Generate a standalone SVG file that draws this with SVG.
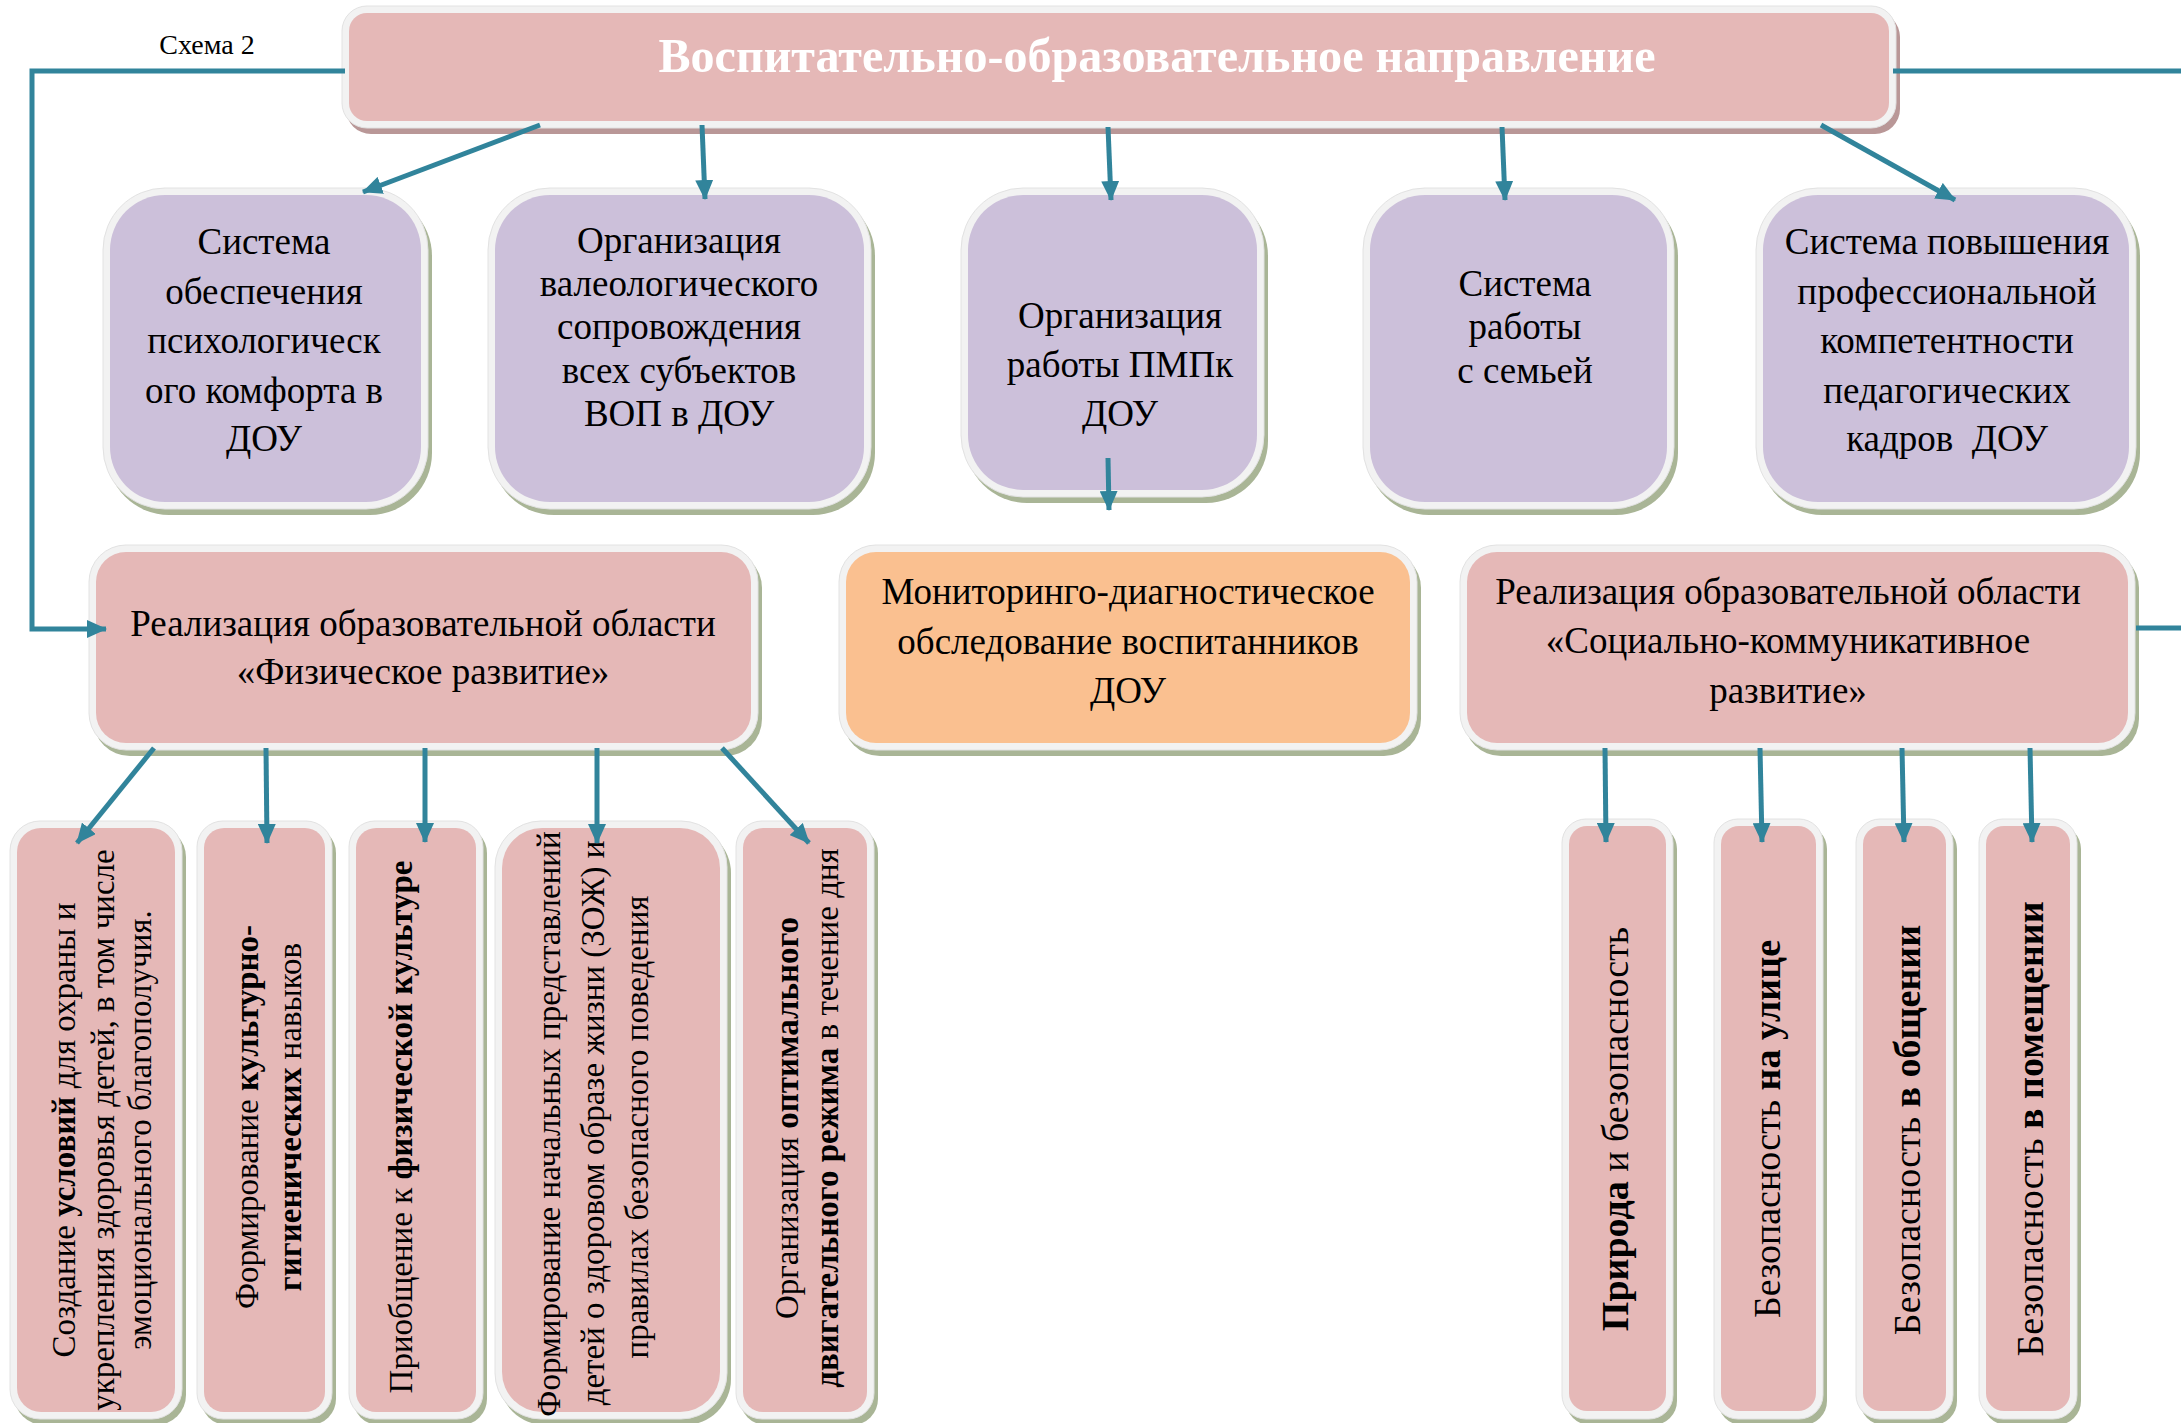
<svg xmlns="http://www.w3.org/2000/svg" width="2181" height="1423" viewBox="0 0 2181 1423">
<style>
.t{font-family:"Liberation Serif","Times New Roman",serif;font-size:37px;fill:#000;text-anchor:middle}
.v{font-size:33px}
.vr{font-size:38px}
.b{font-weight:bold}
.title{font-family:"Liberation Serif","Times New Roman",serif;font-size:49px;font-weight:bold;fill:#fff;text-anchor:middle}
.cap{font-family:"Liberation Serif","Times New Roman",serif;font-size:28px;fill:#000;text-anchor:middle}
.sh{fill:#A9B596}
.shp{fill:#B99797}
.band{fill:#F2F2F2;stroke:#E2E2E2;stroke-width:1}
.pink{fill:#E5B8B7}
.purple{fill:#CCC0DA}
.orange{fill:#FAC090}
.conn{stroke:#31849B;stroke-width:5;fill:none}
</style>
<defs>
<marker id="ah" markerUnits="userSpaceOnUse" markerWidth="20" markerHeight="18" refX="19" refY="9" orient="auto">
<path d="M0,0 L20,9 L0,18 z" fill="#31849B"/>
</marker>
</defs>
<rect width="2181" height="1423" fill="#fff"/>
<text class="cap" x="207" y="54">Схема 2</text>

<g id="header">
<rect class="shp" x="346" y="12" width="1554" height="122" rx="25"/>
<rect class="band" x="342" y="6" width="1554" height="122" rx="25"/>
<rect class="pink" x="349" y="13" width="1540" height="108" rx="18"/>
<text class="title" x="1157" y="72" textLength="997" lengthAdjust="spacingAndGlyphs">Воспитательно-образовательное направление</text>
</g>

<g id="p1">
<rect class="sh" x="107" y="194" width="325" height="321" rx="62"/>
<rect class="band" x="103" y="188" width="325" height="321" rx="62"/>
<rect class="purple" x="110" y="195" width="311" height="307" rx="55"/>
<text class="t"><tspan x="264" y="254">Система</tspan><tspan x="264" y="304">обеспечения</tspan><tspan x="264" y="353">психологическ</tspan><tspan x="264" y="403">ого комфорта в</tspan><tspan x="264" y="451">ДОУ</tspan></text>
</g>

<g id="p2">
<rect class="sh" x="492" y="194" width="383" height="321" rx="62"/>
<rect class="band" x="488" y="188" width="383" height="321" rx="62"/>
<rect class="purple" x="495" y="195" width="369" height="307" rx="55"/>
<text class="t"><tspan x="679" y="253">Организация</tspan><tspan x="679" y="296">валеологического</tspan><tspan x="679" y="339">сопровождения</tspan><tspan x="679" y="383">всех субъектов</tspan><tspan x="679" y="426">ВОП в ДОУ</tspan></text>
</g>

<g id="p3">
<rect class="sh" x="965" y="194" width="303" height="309" rx="62"/>
<rect class="band" x="961" y="188" width="303" height="309" rx="62"/>
<rect class="purple" x="968" y="195" width="289" height="295" rx="55"/>
<text class="t"><tspan x="1120" y="328">Организация</tspan><tspan x="1120" y="377">работы ПМПк</tspan><tspan x="1120" y="426">ДОУ</tspan></text>
</g>

<g id="p4">
<rect class="sh" x="1367" y="194" width="311" height="321" rx="62"/>
<rect class="band" x="1363" y="188" width="311" height="321" rx="62"/>
<rect class="purple" x="1370" y="195" width="297" height="307" rx="55"/>
<text class="t"><tspan x="1525" y="296">Система</tspan><tspan x="1525" y="339">работы</tspan><tspan x="1525" y="383">с семьей</tspan></text>
</g>

<g id="p5">
<rect class="sh" x="1760" y="194" width="380" height="321" rx="62"/>
<rect class="band" x="1756" y="188" width="380" height="321" rx="62"/>
<rect class="purple" x="1763" y="195" width="366" height="307" rx="55"/>
<text class="t"><tspan x="1947" y="254">Система повышения</tspan><tspan x="1947" y="304">профессиональной</tspan><tspan x="1947" y="353">компетентности</tspan><tspan x="1947" y="403">педагогических</tspan><tspan x="1947" y="451" xml:space="preserve">кадров  ДОУ</tspan></text>
</g>

<g id="phys">
<rect class="sh" x="93" y="551" width="669" height="205" rx="37"/>
<rect class="band" x="89" y="545" width="669" height="205" rx="37"/>
<rect class="pink" x="96" y="552" width="655" height="191" rx="30"/>
<text class="t"><tspan x="423" y="636">Реализация образовательной области</tspan><tspan x="423" y="684">«Физическое развитие»</tspan></text>
</g>

<g id="monitor">
<rect class="sh" x="843" y="551" width="578" height="205" rx="37"/>
<rect class="band" x="839" y="545" width="578" height="205" rx="37"/>
<rect class="orange" x="846" y="552" width="564" height="191" rx="30"/>
<text class="t"><tspan x="1128" y="604">Мониторинго-диагностическое</tspan><tspan x="1128" y="654">обследование воспитанников</tspan><tspan x="1128" y="703">ДОУ</tspan></text>
</g>

<g id="social">
<rect class="sh" x="1464" y="551" width="675" height="205" rx="37"/>
<rect class="band" x="1460" y="545" width="675" height="205" rx="37"/>
<rect class="pink" x="1467" y="552" width="661" height="191" rx="30"/>
<text class="t"><tspan x="1788" y="604">Реализация образовательной области</tspan><tspan x="1788" y="653">«Социально-коммуникативное</tspan><tspan x="1788" y="703">развитие»</tspan></text>
</g>

<g id="b1">
<rect class="sh" x="14" y="827" width="172" height="598" rx="30"/>
<rect class="band" x="10" y="821" width="172" height="598" rx="30"/>
<rect class="pink" x="17" y="828" width="158" height="584" rx="24"/>
<text class="t v" transform="translate(75,1130) rotate(-90)">Создание <tspan class="b">условий</tspan> для охраны и</text>
<text class="t v" transform="translate(114,1130) rotate(-90)">укрепления здоровья детей, в том числе</text>
<text class="t v" transform="translate(151,1130) rotate(-90)">эмоционального благополучия.</text>
</g>

<g id="b2">
<rect class="sh" x="201" y="827" width="135" height="598" rx="26"/>
<rect class="band" x="197" y="821" width="135" height="598" rx="26"/>
<rect class="pink" x="204" y="828" width="121" height="584" rx="20"/>
<text class="t v" transform="translate(258,1117) rotate(-90)">Формирование <tspan class="b">культурно-</tspan></text>
<text class="t v" transform="translate(301,1117) rotate(-90)"><tspan class="b">гигиенических</tspan> навыков</text>
</g>

<g id="b3">
<rect class="sh" x="353" y="827" width="134" height="598" rx="26"/>
<rect class="band" x="349" y="821" width="134" height="598" rx="26"/>
<rect class="pink" x="356" y="828" width="120" height="584" rx="20"/>
<text class="t v" transform="translate(412,1127) rotate(-90)">Приобщение к <tspan class="b">физической культуре</tspan></text>
</g>

<g id="b4">
<rect class="sh" x="499" y="827" width="232" height="598" rx="46"/>
<rect class="band" x="495" y="821" width="232" height="598" rx="46"/>
<rect class="pink" x="502" y="828" width="218" height="584" rx="40"/>
<text class="t v" transform="translate(560,1124) rotate(-90)">Формирование начальных представлений</text>
<text class="t v" transform="translate(604,1123) rotate(-90)">детей о здоровом образе жизни (ЗОЖ) и</text>
<text class="t v" transform="translate(648,1127) rotate(-90)">правилах безопасного поведения</text>
</g>

<g id="b5">
<rect class="sh" x="740" y="827" width="138" height="598" rx="26"/>
<rect class="band" x="736" y="821" width="138" height="598" rx="26"/>
<rect class="pink" x="743" y="828" width="124" height="584" rx="20"/>
<text class="t v" transform="translate(798,1118) rotate(-90)">Организация <tspan class="b">оптимального</tspan></text>
<text class="t v" transform="translate(838,1118) rotate(-90)"><tspan class="b">двигательного режима</tspan> в течение дня</text>
</g>

<g id="c1">
<rect class="sh" x="1566" y="825" width="111" height="600" rx="24"/>
<rect class="band" x="1562" y="819" width="111" height="600" rx="24"/>
<rect class="pink" x="1569" y="826" width="97" height="585" rx="18"/>
<text class="t vr" transform="translate(1628,1129) rotate(-90)"><tspan class="b">Природа</tspan> и безопасность</text>
</g>

<g id="c2">
<rect class="sh" x="1718" y="825" width="109" height="600" rx="24"/>
<rect class="band" x="1714" y="819" width="109" height="600" rx="24"/>
<rect class="pink" x="1721" y="826" width="95" height="585" rx="18"/>
<text class="t vr" transform="translate(1780,1129) rotate(-90)">Безопасность <tspan class="b">на улице</tspan></text>
</g>

<g id="c3">
<rect class="sh" x="1860" y="825" width="97" height="600" rx="24"/>
<rect class="band" x="1856" y="819" width="97" height="600" rx="24"/>
<rect class="pink" x="1863" y="826" width="83" height="585" rx="18"/>
<text class="t vr" transform="translate(1920,1130) rotate(-90)">Безопасность <tspan class="b">в общении</tspan></text>
</g>

<g id="c4">
<rect class="sh" x="1983" y="825" width="98" height="600" rx="24"/>
<rect class="band" x="1979" y="819" width="98" height="600" rx="24"/>
<rect class="pink" x="1986" y="826" width="84" height="585" rx="18"/>
<text class="t vr" transform="translate(2043,1129) rotate(-90)">Безопасность <tspan class="b">в помещении</tspan></text>
</g>

<g id="connectors">
<path class="conn" d="M345,71 H32 V629 H106" marker-end="url(#ah)"/>
<path class="conn" d="M1893,71 H2181"/>
<path class="conn" d="M2136,628 H2181"/>
<path class="conn" d="M540,125 L363,192" marker-end="url(#ah)"/>
<path class="conn" d="M702,125 L705,199" marker-end="url(#ah)"/>
<path class="conn" d="M1108,127 L1111,200" marker-end="url(#ah)"/>
<path class="conn" d="M1502,127 L1505,200" marker-end="url(#ah)"/>
<path class="conn" d="M1821,125 L1955,200" marker-end="url(#ah)"/>
<path class="conn" d="M1108,458 L1109,510" marker-end="url(#ah)"/>
<path class="conn" d="M154,748 L77,843" marker-end="url(#ah)"/>
<path class="conn" d="M266,748 L267,843" marker-end="url(#ah)"/>
<path class="conn" d="M425,748 L425,842" marker-end="url(#ah)"/>
<path class="conn" d="M597,748 L597,843" marker-end="url(#ah)"/>
<path class="conn" d="M722,748 L809,843" marker-end="url(#ah)"/>
<path class="conn" d="M1605,748 L1606,842" marker-end="url(#ah)"/>
<path class="conn" d="M1760,748 L1762,842" marker-end="url(#ah)"/>
<path class="conn" d="M1902,748 L1904,842" marker-end="url(#ah)"/>
<path class="conn" d="M2030,748 L2032,842" marker-end="url(#ah)"/>
</g>
</svg>
